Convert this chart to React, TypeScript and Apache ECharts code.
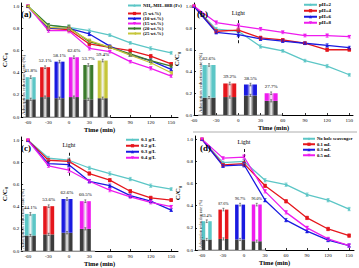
import React, { useEffect, useRef } from 'react';
import * as echarts from 'echarts';

const SERIF = "'Liberation Serif', 'Times New Roman', serif";

const times = [-60, -30, 0, 30, 60, 90, 120, 150];
const xTicks = [-60, -30, 0, 30, 60, 90, 120, 150];
const yTicks = [0, 0.2, 0.4, 0.6, 0.8, 1.0];

// Panel (a)
const aNames = ['NH\u2082-MIL-88B (Fe)', '(5 wt.%)', '(10 wt.%)', '(15 wt.%)', '(20 wt.%)', '(25 wt.%)'];
const aPure = [1.0, 0.83, 0.81, 0.78, 0.74, 0.67, 0.62, 0.58];
const a5 = [1.0, 0.80, 0.79, 0.66, 0.63, 0.60, 0.55, 0.48];
const a10 = [1.0, 0.80, 0.80, 0.75, 0.64, 0.56, 0.51, 0.43];
const a15 = [1.0, 0.78, 0.78, 0.62, 0.59, 0.50, 0.44, 0.37];
const a20 = [1.0, 0.83, 0.81, 0.68, 0.63, 0.57, 0.51, 0.46];
const a25 = [1.0, 0.81, 0.80, 0.69, 0.63, 0.56, 0.49, 0.40];
const aErr = [0, 0.015, 0.02, 0.015, 0.012, 0.012, 0.015, 0.012];
const aBarCats = ['0', '5', '10', '15', '20', '25'];
const aAds = [0.16, 0.18, 0.17, 0.18, 0.16, 0.17];
const aTotal = [0.36, 0.45, 0.50, 0.54, 0.47, 0.51];
const aRate = ['41.8%', '52.1%', '58.1%', '62.6%', '53.7%', '59.4%'];

// Panel (b)
const bNames = ['pH=2', 'pH=4', 'pH=6', 'pH=8'];
const bPH2 = [1.0, 0.79, 0.77, 0.63, 0.59, 0.50, 0.45, 0.37];
const bPH4 = [1.0, 0.77, 0.78, 0.71, 0.69, 0.66, 0.60, 0.60];
const bPH6 = [1.0, 0.76, 0.74, 0.70, 0.68, 0.66, 0.64, 0.62];
const bPH8 = [1.0, 0.85, 0.82, 0.79, 0.76, 0.73, 0.73, 0.72];
const bErr = [0, 0.015, 0.02, 0.015, 0.012, 0.012, 0.015, 0.012];
const bBarCats = ['pH=2', 'pH=4', 'pH=6', 'pH=8'];
const bAds = [0.16, 0.165, 0.18, 0.13];
const bTotal = [0.46, 0.29, 0.28, 0.20];
const bRate = ['62.6%', '39.2%', '38.5%', '27.7%'];

// Panel (c)
const cNames = ['0.1 g/L', '0.2 g/L', '0.3 g/L', '0.4 g/L'];
const c01 = [1.0, 0.84, 0.82, 0.75, 0.70, 0.65, 0.59, 0.56];
const c02 = [1.0, 0.82, 0.81, 0.70, 0.64, 0.54, 0.48, 0.46];
const c03 = [1.0, 0.79, 0.78, 0.63, 0.59, 0.50, 0.45, 0.37];
const c04 = [1.0, 0.77, 0.73, 0.63, 0.55, 0.49, 0.44, 0.40];
const cErr = [0, 0.015, 0.02, 0.015, 0.015, 0.015, 0.015, 0.012];
const cBarCats = ['0.1', '0.2', '0.3', '0.4'];
const cAds = [0.14, 0.15, 0.165, 0.20];
const cTotal = [0.335, 0.405, 0.47, 0.45];
const cRate = ['44.1%', '53.6%', '62.6%', '60.5%'];

// Panel (d)
const dNames = ['No hole scavenger', '0.1 mL', '0.3 mL', '0.5 mL'];
const dNone = [1.0, 0.79, 0.80, 0.63, 0.59, 0.50, 0.45, 0.37];
const d01 = [1.0, 0.77, 0.78, 0.58, 0.44, 0.29, 0.19, 0.13];
const d03 = [1.0, 0.76, 0.77, 0.45, 0.27, 0.17, 0.09, 0.04];
const d05 = [1.0, 0.83, 0.84, 0.53, 0.34, 0.20, 0.10, 0.04];
const dErr = [0, 0.012, 0.02, 0.015, 0.015, 0.015, 0.015, 0.015];
const dBarCats = ['0', '0.1', '0.3', '0.5'];
const dAds = [0.095, 0.10, 0.095, 0.08];
const dTotal = [0.26, 0.365, 0.41, 0.41];
const dRate = ['63.4%', '87.6%', '96.7%', '96.0%'];

const COL = {
  cyan: '#5cc6c6',
  red: '#e5161c',
  blue: '#1a1ae0',
  magenta: '#ee1cee',
  green: '#3b7a2c',
  yellow: '#c6c63a',
};

const STAR = 'path://M0,-1L0.29,-0.4L0.95,-0.31L0.47,0.15L0.59,0.81L0,0.5L-0.59,0.81L-0.47,0.15L-0.95,-0.31L-0.29,-0.4Z';

const SYM: any[] = [
  { symbol: STAR, rot: 0 },
  { symbol: 'rect', rot: 0 },
  { symbol: 'triangle', rot: 0 },
  { symbol: 'triangle', rot: 180 },
  { symbol: 'diamond', rot: 0 },
  { symbol: 'triangle', rot: 90 },
];

function lineSeries(g: number, name: string, data: number[], color: string, k: number, extra: any = {}) {
  return {
    type: 'line',
    name,
    xAxisIndex: g,
    yAxisIndex: g,
    data: times.map((t, i) => [t, data[i]]),
    symbol: SYM[k].symbol,
    symbolRotate: SYM[k].rot,
    symbolSize: 3.5,
    showAllSymbol: true,
    lineStyle: { color, width: 1.3 },
    itemStyle: { color },
    color,
    z: 4,
    ...extra,
  };
}

function errSeries(g: number, xs: any[], ys: number[], errs: number[], color: string, lw = 0.7, cap = 1.5) {
  return {
    type: 'custom',
    xAxisIndex: g,
    yAxisIndex: g,
    silent: true,
    z: 5,
    data: xs.map((x, i) => [x, ys[i], errs[i]]),
    renderItem: (params: any, api: any) => {
      const x = api.value(0);
      const y = api.value(1);
      const e = api.value(2);
      if (!e) return null;
      const t = api.coord([x, y + e]);
      const b = api.coord([x, y - e]);
      const st = { stroke: color, lineWidth: lw };
      return {
        type: 'group',
        children: [
          { type: 'line', shape: { x1: t[0], y1: t[1], x2: b[0], y2: b[1] }, style: st },
          { type: 'line', shape: { x1: t[0] - cap, y1: t[1], x2: t[0] + cap, y2: t[1] }, style: st },
          { type: 'line', shape: { x1: b[0] - cap, y1: b[1], x2: b[0] + cap, y2: b[1] }, style: st },
        ],
      };
    },
  };
}

function lightMark(y0: number, y1: number) {
  return {
    markLine: {
      silent: true,
      symbol: 'none',
      animation: false,
      lineStyle: { type: [3, 2], color: '#000', width: 0.9 },
      label: { show: true, position: 'end', formatter: 'Light', fontSize: 6, fontFamily: SERIF, color: '#000', distance: 3 },
      data: [[{ coord: [0, y0] }, { coord: [0, y1] }]],
    },
  };
}

function mainX(g: number, min: number, max: number) {
  return {
    type: 'value',
    gridIndex: g,
    min,
    max,
    axisLine: { show: true, onZero: false, lineStyle: { color: '#000', width: 1 } },
    axisTick: { show: true, inside: true, length: 2, customValues: xTicks, lineStyle: { color: '#000', width: 0.8 } },
    axisLabel: { customValues: xTicks, fontSize: 5, fontFamily: SERIF, color: '#000', margin: 3 },
    splitLine: { show: false },
    name: 'Time (min)',
    nameLocation: 'middle',
    nameGap: 9,
    nameTextStyle: { fontSize: 6.5, fontWeight: 'bold', fontFamily: SERIF, color: '#000' },
  };
}

function mainY(g: number) {
  return {
    type: 'value',
    gridIndex: g,
    min: 0,
    max: 1.03,
    axisLine: { show: true, onZero: false, lineStyle: { color: '#000', width: 1 } },
    axisTick: { show: true, inside: true, length: 2, customValues: yTicks, lineStyle: { color: '#000', width: 0.8 } },
    axisLabel: {
      customValues: yTicks,
      fontSize: 5,
      fontFamily: SERIF,
      color: '#000',
      margin: 2,
      formatter: (v: number) => v.toFixed(1),
    },
    splitLine: { show: false },
    name: '{a|C/C}{b|0}',
    nameLocation: 'middle',
    nameGap: 11,
    nameTextStyle: {
      rich: {
        a: { fontSize: 7, fontWeight: 'bold', fontFamily: SERIF, color: '#000' },
        b: { fontSize: 4.5, fontWeight: 'bold', fontFamily: SERIF, color: '#000', padding: [4, 0, 0, 0] },
      },
    },
  };
}

function insetX(g: number, cats: string[]) {
  return {
    type: 'category',
    gridIndex: g,
    data: cats,
    axisLine: { show: true, lineStyle: { color: '#c4c4c4', width: 1.5 } },
    axisTick: { show: false },
    axisLabel: { show: false },
    splitLine: { show: false },
  };
}

function insetY(g: number) {
  return { type: 'value', gridIndex: g, min: 0, max: 1.03, show: false };
}

function grad(color: string, sharp: boolean) {
  const stops = sharp
    ? [
        { offset: 0, color },
        { offset: 0.3, color },
        { offset: 0.4, color: '#ffffff' },
        { offset: 0.6, color: '#ffffff' },
        { offset: 0.7, color },
        { offset: 1, color },
      ]
    : [
        { offset: 0, color },
        { offset: 0.25, color },
        { offset: 0.5, color: '#f4f4f4' },
        { offset: 0.75, color },
        { offset: 1, color },
      ];
  return new echarts.graphic.LinearGradient(0, 0, 1, 0, stops);
}

function grayGrad(sharp: boolean) {
  return grad('#3c3c3c', sharp);
}

function barSeries(
  g: number,
  cats: string[],
  ads: number[],
  total: number[],
  rates: string[],
  colors: string[],
  barWidth: number,
  fontSize: number,
  sharp: boolean
) {
  const gray = {
    type: 'bar',
    xAxisIndex: g,
    yAxisIndex: g,
    stack: 'st' + g,
    barWidth,
    data: ads.map((v) => ({ value: v, itemStyle: { color: grayGrad(sharp) } })),
    z: 1,
    silent: true,
  };
  const top = {
    type: 'bar',
    xAxisIndex: g,
    yAxisIndex: g,
    stack: 'st' + g,
    barWidth,
    data: total.map((t, i) => ({ value: +(t - ads[i]).toFixed(3), itemStyle: { color: grad(colors[i], sharp) } })),
    label: {
      show: true,
      position: 'top',
      distance: 4,
      fontSize,
      fontFamily: SERIF,
      color: '#000',
      formatter: (p: any) => rates[p.dataIndex],
    },
    z: 1,
    silent: true,
  };
  const idx = cats.map((_, i) => i);
  const errTop = errSeries(g, idx, total, total.map(() => 0.012), '#222', 0.5, 1);
  const errBot = errSeries(g, idx, ads, ads.map(() => 0.01), '#222', 0.5, 1);
  return [gray, top, errTop, errBot];
}

function legend(names: string[], left: number, top: number, gap: number, lh: number, fs = 5, iw = 13) {
  return {
    data: names,
    left,
    top,
    orient: 'vertical',
    itemWidth: iw,
    itemHeight: 4,
    itemGap: gap,
    selectedMode: false,
    padding: 0,
    textStyle: { fontSize: fs, fontWeight: 'bold', fontFamily: SERIF, color: '#000', lineHeight: lh, padding: [0, 0, 0, -3] },
  };
}

function insetTitle(x: number, y: number, size: number) {
  return {
    type: 'text',
    x,
    y,
    rotation: Math.PI / 2,
    style: {
      text: 'Adsorption reduction rate (%)',
      fontSize: size,
      fontFamily: SERIF,
      fill: '#000',
      textAlign: 'left',
      textVerticalAlign: 'middle',
    },
    z: 10,
  };
}

function panelLabel(text: string, x: number, y: number) {
  return {
    type: 'text',
    x,
    y,
    style: { text, fontSize: 9, fontWeight: 'bold', fontFamily: SERIF, fill: '#000', textVerticalAlign: 'middle' },
    z: 10,
  };
}

export default function App() {
  const ref = useRef<HTMLDivElement>(null);
  useEffect(() => {
    if (!ref.current) return;
    const chart = echarts.init(ref.current, null, { renderer: 'svg' });

    const aColors = [COL.cyan, COL.red, COL.blue, COL.magenta, COL.green, COL.yellow];
    const q = [COL.cyan, COL.red, COL.blue, COL.magenta];

    const aLines = [aPure, a5, a10, a15, a20, a25];
    const bLines = [bPH2, bPH4, bPH6, bPH8];
    const cLines = [c01, c02, c03, c04];
    const dLines = [dNone, d01, d03, d05];

    const series: any[] = [];
    series.push(...barSeries(4, aBarCats, aAds, aTotal, aRate, aColors, 10, 5, false));
    series.push(...barSeries(5, bBarCats, bAds, bTotal, bRate, q, 13, 5, false));
    series.push(...barSeries(6, cBarCats, cAds, cTotal, cRate, q, 11, 5, false));
    series.push(...barSeries(7, dBarCats, dAds, dTotal, dRate, q, 10, 4, true));

    aLines.forEach((d, i) => {
      series.push(lineSeries(0, aNames[i], d, aColors[i], i));
      series.push(errSeries(0, times, d, aErr, aColors[i]));
    });
    bLines.forEach((d, i) => {
      series.push(lineSeries(1, bNames[i], d, q[i], i, i === 0 ? lightMark(0.66, 0.88) : {}));
      series.push(errSeries(1, times, d, bErr, q[i]));
    });
    cLines.forEach((d, i) => {
      series.push(lineSeries(2, cNames[i], d, q[i], i, i === 0 ? lightMark(0.68, 0.9) : {}));
      series.push(errSeries(2, times, d, cErr, q[i]));
    });
    dLines.forEach((d, i) => {
      series.push(lineSeries(3, dNames[i], d, q[i], i, i === 0 ? lightMark(0.75, 0.92) : {}));
      series.push(errSeries(3, times, d, dErr, q[i]));
    });

    const option: any = {
      animation: false,
      backgroundColor: '#fff',
      textStyle: { fontFamily: SERIF },
      grid: [
        { left: 19, top: 3, width: 159, height: 114 },
        { left: 194, top: 3, width: 159, height: 112 },
        { left: 19, top: 137, width: 159, height: 114 },
        { left: 195, top: 136, width: 159, height: 114 },
        { left: 23.5, top: 3, width: 86.4, height: 114 },
        { left: 198.7, top: 3, width: 82.8, height: 112 },
        { left: 21.2, top: 137, width: 73.3, height: 114 },
        { left: 198.4, top: 136, width: 66.7, height: 114 },
      ],
      xAxis: [
        mainX(0, -70, 160),
        mainX(1, -60, 155),
        mainX(2, -70, 160),
        mainX(3, -70, 157),
        insetX(4, aBarCats),
        insetX(5, bBarCats),
        insetX(6, cBarCats),
        insetX(7, dBarCats),
      ],
      yAxis: [mainY(0), mainY(1), mainY(2), mainY(3), insetY(4), insetY(5), insetY(6), insetY(7)],
      legend: [
        legend([aNames[0]], 127, 3, 0, 5, 4.8, 13),
        legend(aNames.slice(1), 127, 11, 0, 5, 4.8, 13),
        legend(bNames, 303, 2, 0.5, 5.5, 5, 13),
        legend(cNames, 125, 137, 0.5, 5.5, 5, 13),
        legend(dNames, 302, 136, 0, 5.5, 4.6, 12),
      ],
      series,
      graphic: [
        panelLabel('(a)', 21, 14),
        panelLabel('(b)', 197, 14),
        panelLabel('(c)', 21, 148),
        panelLabel('(d)', 200, 148),
        insetTitle(23, 115, 5),
        insetTitle(200, 113, 5),
        insetTitle(22, 249, 5),
        insetTitle(200, 248, 4),
        { type: 'line', shape: { x1: 193, y1: 132, x2: 357, y2: 132 }, style: { stroke: '#999', lineWidth: 0.8 } },
      ],
    };
    chart.setOption(option);
    return () => chart.dispose();
  }, []);
  return <div ref={ref} style={{ position: 'absolute', left: 0, top: 0, width: 359, height: 268 }} />;
}
